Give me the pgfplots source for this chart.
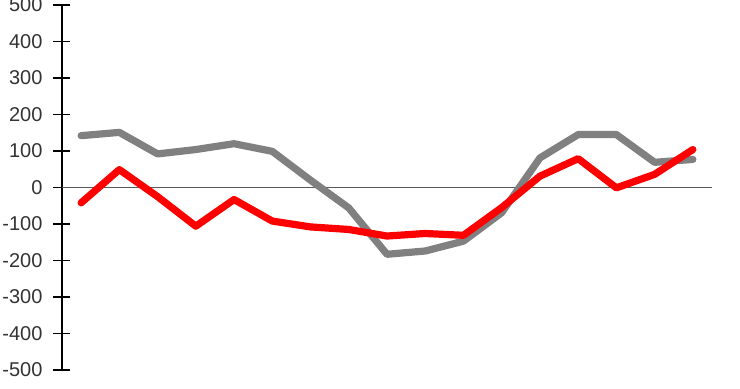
\documentclass[border=0pt]{standalone}
\usepackage{fontspec}
\setmainfont{Liberation Sans}
\usepackage{pgfplots}
\pgfplotsset{compat=1.18}
\definecolor{lred}{HTML}{FF0000}
\definecolor{lgray}{HTML}{808080}
\begin{document}
\begin{tikzpicture}
\begin{axis}[
  name=ax,
  scale only axis,
  width=325pt, height=182.5pt,
  xmin=-0.5, xmax=16.5,
  ymin=-500, ymax=500,
  axis x line=none,
  axis y line*=left,
  y axis line style={-, black, line width=0.7pt},
  ytick={-500,-400,...,500},
  tick align=center,
  major tick length=8.5pt,
  tick style={black, line width=0.7pt},
  /pgf/number format/assume math mode=true,
  yticklabel style={font=\fontsize{10}{11}\selectfont, text=black!80, xshift=-2pt},
  clip=false,
]
\draw[black!65, line width=0.8pt] (axis cs:-0.5,0) -- (axis cs:16.5,0);
\addplot[lgray, line width=3.6pt, line join=round, line cap=round] coordinates {
(0,142) (1,151) (2,92) (3,104) (4,120) (5,99) (6,20) (7,-56) (8,-183)
(9,-174) (10,-147) (11,-69) (12,81) (13,145) (14,145) (15,69) (16,77)};
\addplot[lred, line width=3.6pt, line join=round, line cap=round] coordinates {
(0,-42) (1,49) (2,-25) (3,-106) (4,-33) (5,-92) (6,-108) (7,-115) (8,-133)
(9,-126) (10,-131) (11,-55) (12,31) (13,79) (14,-1) (15,36) (16,104)};
\end{axis}
\pgfresetboundingbox
\path[use as bounding box] ([xshift=-31pt,yshift=-9.5pt]ax.south west) rectangle ([xshift=14pt,yshift=2.5pt]ax.north east);
\end{tikzpicture}
\end{document}
